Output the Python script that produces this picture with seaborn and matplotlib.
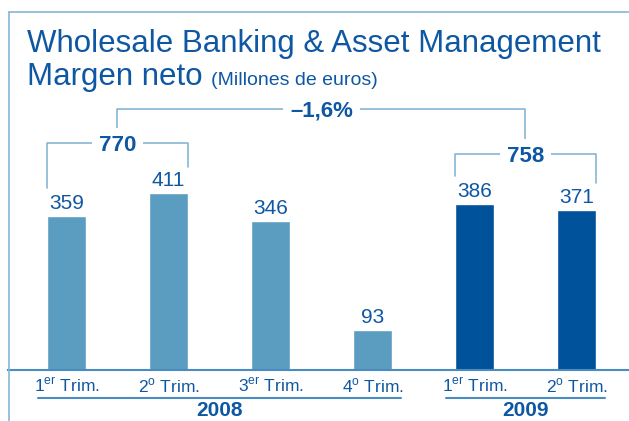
import matplotlib
matplotlib.use("Agg")
import matplotlib.pyplot as plt
import matplotlib.transforms as mtransforms
from matplotlib.lines import Line2D
import seaborn as sns
import pandas as pd

# data
keys = ["2008-T1", "2008-T2", "2008-T3", "2008-T4", "2009-T1", "2009-T2"]
years = ["2008", "2008", "2008", "2008", "2009", "2009"]
quarter_labels = [r"1$^{\mathrm{er}}$ Trim.", r"2$^{\mathrm{o}}$ Trim.", r"3$^{\mathrm{er}}$ Trim.",
                  r"4$^{\mathrm{o}}$ Trim.", r"1$^{\mathrm{er}}$ Trim.", r"2$^{\mathrm{o}}$ Trim."]
values = [359, 411, 346, 93, 386, 371]
half_2008 = "770"
half_2009 = "758"
change = "–1,6%"
title = "Wholesale Banking & Asset Management"
subtitle = "Margen neto"
unit = "(Millones de euros)"

light = "#5a9dc1"
dark = "#00529b"
text_c = "#0e57a3"
line_c = "#86b6d6"
axis_c = "#4a8cc0"

sns.set_style("white")
plt.rcParams["font.family"] = ["Liberation Sans", "DejaVu Sans"]
plt.rcParams["mathtext.fontset"] = "custom"
plt.rcParams["mathtext.rm"] = "Liberation Sans"
narrow = ["Liberation Sans Narrow", "Liberation Sans"]

df = pd.DataFrame({"key": keys, "year": years, "value": values})

W, H = 629, 421
fig = plt.figure(figsize=(W / 100, H / 100), dpi=100)
ax = fig.add_axes([8 / W, 51 / H, 621 / W, 358 / H])
bw = 0.382
sns.barplot(data=df, x="key", y="value", hue="year", palette={"2008": light, "2009": dark},
            dodge=False, width=bw, saturation=1, legend=False, ax=ax)
ax.set_xlim(-0.5735, 5.515)
ax.set_ylim(0, 832)
for s in ["top", "left", "right"]:
    ax.spines[s].set_visible(False)
ax.spines["bottom"].set_color(axis_c)
ax.spines["bottom"].set_linewidth(1.5)
ax.set_xticks([])
ax.set_yticks([])
ax.set_xlabel("")
ax.set_ylabel("")

# pixel transform, origin top-left
top_px = mtransforms.Affine2D().scale(1, -1).translate(0, H)
blend = mtransforms.blended_transform_factory(ax.transData, top_px)

# frame
fig.add_artist(Line2D([9, W], [12, 12], transform=top_px, color=line_c, lw=1.2))
fig.add_artist(Line2D([9, 9], [12, H], transform=top_px, color=line_c, lw=1.2))

# titles
fig.text(27, 52, title, transform=top_px, fontsize=22.5, color=text_c, va="baseline")
fig.text(27, 85, subtitle, transform=top_px, fontsize=22.5, color=text_c, va="baseline")
fig.text(211, 85, unit, transform=top_px, fontsize=14, color=text_c, va="baseline")

# value labels and quarter labels
for i, v in enumerate(values):
    ax.text(i, v + 16, str(v), ha="center", va="baseline", fontsize=15, color=text_c)
    ax.text(i, 392, quarter_labels[i], transform=blend, ha="center", va="baseline",
            fontsize=12.5, color=text_c, family=narrow)

# year groups
for yr in ["2008", "2009"]:
    idx = [i for i, y in enumerate(years) if y == yr]
    ax.plot([idx[0] - 0.28, idx[-1] + 0.28], [398, 398], transform=blend, color=axis_c,
            lw=1.5, clip_on=False)
    ax.text((idx[0] + idx[-1]) / 2, 416, yr, transform=blend, ha="center", va="baseline",
            fontsize=15, fontweight="bold", color=text_c)


def bracket(x0, x1, y, b0, b1, label):
    ax.plot([x0, x0, x1, x1], [b0, y, y, b1], color=line_c, lw=1.2, clip_on=False, zorder=1)
    ax.text((x0 + x1) / 2, y, label, ha="center", va="center_baseline", fontsize=16,
            fontweight="bold", color=text_c, zorder=3,
            bbox=dict(boxstyle="square,pad=0.3", fc="white", ec="none"))


y770 = max(values[0], values[1]) + 117
y758 = max(values[4], values[5]) + 116
bracket(0 - bw / 2, 1 + bw / 2, y770, values[0] + 64, values[1] + 61, half_2008)
bracket(4 - bw / 2, 5 + bw / 2, y758, values[4] + 65, values[5] + 64, half_2009)
bracket(0.5, 4.5, y770 + 79, y770 + 25, y758 + 28, change)

fig.savefig("out.png", dpi=100)
